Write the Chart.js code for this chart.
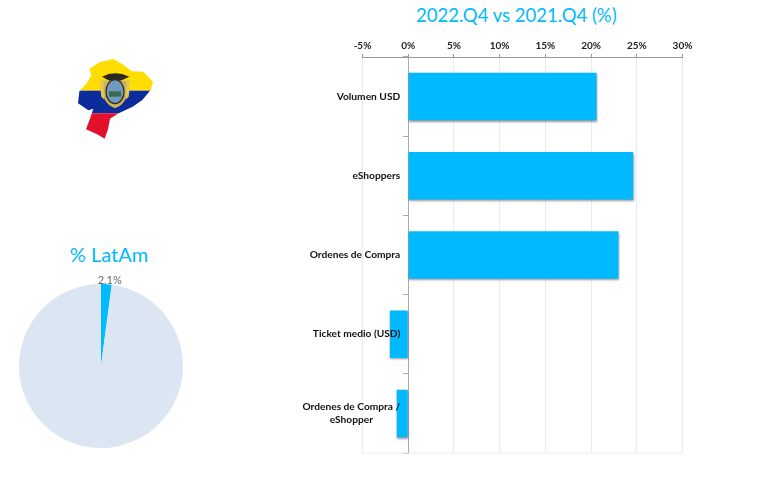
<!DOCTYPE html>
<html>
<head>
<meta charset="utf-8">
<script src="https://cdn.jsdelivr.net/npm/chart.js@4/dist/chart.umd.min.js"></script>
<style>
  html, body { margin: 0; padding: 0; background: #fff; }
  .box { position: absolute; }
  #mapa { position: absolute; left: 60px; top: 50px; }
  .titulo {
    position: absolute;
    color: #00B9FF;
    font-family: Lato, "Open Sans", sans-serif;
    font-weight: 400;
    white-space: nowrap;
    text-align: center;
  }
</style>
</head>
<body>
<!-- mapa de Ecuador con la bandera -->
<svg id="mapa" width="110" height="100" viewBox="0 0 330 300">
  <defs>
    <clipPath id="contorno">
      <path d="M88 56 L120 36 L160 27 L190 44 L215 64 L250 65 L279 95 L272 120 L247 150 L218 170 L176 190 L150 206 L144 238 L134 266 L110 252 L78 238 L92 200 L100 176 L85 181 L54 160 L58 124 L80 100 L94 76 Z"/>
    </clipPath>
  </defs>
  <g clip-path="url(#contorno)">
    <rect x="40" y="20" width="250" height="102" fill="#FFDD00"/>
    <rect x="40" y="122" width="250" height="68" fill="#0B2C9A"/>
    <rect x="40" y="190" width="250" height="90" fill="#E2102B"/>
  </g>
  <path d="M118 88 L132 92 L134 150 L124 140 Z" fill="#E9C94A"/>
  <path d="M212 88 L198 92 L196 150 L206 140 Z" fill="#E9C94A"/>
  <path d="M126 80 Q165 60 208 80 L182 92 L148 92 Z" fill="#2A2A22"/>
  <path d="M130 92 L200 92 L198 140 Q192 165 165 175 Q138 165 132 140 Z" fill="#C9B35A"/>
  <ellipse cx="165" cy="125" rx="27" ry="36" fill="#6E9BBE" stroke="#3A2A20" stroke-width="4"/>
  <rect x="147" y="124" width="36" height="16" fill="#3E6B4F"/>
</svg>

<div class="titulo" style="left:416px;top:3px;width:200px;font-size:18.5px;line-height:24px">2022.Q4 vs 2021.Q4 (%)</div>
<div class="titulo" style="left:69px;top:241px;width:80px;font-size:20px;line-height:26px">% LatAm</div>

<div class="box" style="left:290px;top:30px;width:452px;height:450px"><canvas id="graficoVariacion"></canvas></div>
<div class="box" style="left:0;top:270px;width:202px;height:178px"><canvas id="graficoLatam"></canvas></div>

<script>
const categorias = ['Volumen USD', 'eShoppers', 'Ordenes de Compra', 'Ticket medio (USD)', ['Ordenes de Compra /', 'eShopper']];
const variacion = [20.6, 24.6, 23.0, -2.0, -1.25];
const ticksX = [-5, 0, 5, 10, 15, 20, 25, 30];

const etiquetasPie = ['Ecuador', 'Resto LatAm'];
const valoresPie = [2.1, 97.9];

const fuente = 'Lato, "Open Sans", sans-serif';
const azul = '#00B9FF';

// Sombra de las barras
const sombraBarras = {
    id: 'sombraBarras',
    beforeDatasetsDraw(chart) {
        const ctx = chart.ctx;
        ctx.save();
        ctx.shadowColor = 'rgba(0, 0, 0, 0.4)';
        ctx.shadowBlur = 2;
        ctx.shadowOffsetX = 0.5;
        ctx.shadowOffsetY = 1.5;
    },
    afterDatasetsDraw(chart) {
        chart.ctx.restore();
    }
};

// Linea clara al pie del grafico
const lineaInferior = {
    id: 'lineaInferior',
    beforeDatasetsDraw(chart) {
        const { ctx, chartArea } = chart;
        ctx.save();
        ctx.strokeStyle = '#E6EBF5';
        ctx.lineWidth = 1;
        ctx.beginPath();
        ctx.moveTo(chartArea.left, chartArea.bottom);
        ctx.lineTo(chartArea.right, chartArea.bottom);
        ctx.stroke();
        ctx.restore();
    }
};

// Etiquetas de categoria: una linea a la derecha, varias lineas centradas entre si
const etiquetasCategoria = {
    id: 'etiquetasCategoria',
    afterDatasetsDraw(chart) {
        const ctx = chart.ctx;
        const escala = chart.scales.y;
        const xDerecha = chart.scales.x.getPixelForValue(0) - 8;
        ctx.save();
        ctx.font = 'bold 10.2px ' + fuente;
        ctx.fillStyle = '#111';
        ctx.textBaseline = 'middle';
        categorias.forEach((cat, i) => {
            const y = escala.getPixelForTick(i);
            if (Array.isArray(cat)) {
                const ancho = Math.max(...cat.map(l => ctx.measureText(l).width));
                ctx.textAlign = 'center';
                cat.forEach((linea, j) => {
                    ctx.fillText(linea, xDerecha - ancho / 2, y + (j - (cat.length - 1) / 2) * 13);
                });
            } else {
                ctx.textAlign = 'right';
                ctx.fillText(cat, xDerecha, y);
            }
        });
        ctx.restore();
    }
};

new Chart(document.getElementById('graficoVariacion'), {
    type: 'bar',
    data: {
        labels: categorias,
        datasets: [{
            data: variacion,
            backgroundColor: azul,
            categoryPercentage: 0.6,
            barPercentage: 1
        }]
    },
    options: {
        indexAxis: 'y',
        responsive: true,
        maintainAspectRatio: false,
        animation: false,
        layout: { padding: { left: 72.5, right: 59.5, top: 8, bottom: 27 } },
        scales: {
            x: {
                position: 'top',
                min: -5,
                max: 30,
                afterBuildTicks(escala) {
                    escala.ticks = ticksX.map(v => ({ value: v }));
                },
                grid: { color: '#E6EBF5', tickLength: 3, tickColor: '#999' },
                border: { color: '#999' },
                ticks: {
                    maxRotation: 0,
                    padding: 2,
                    color: '#222',
                    font: { family: fuente, size: 10, weight: 'bold' },
                    callback: v => v + '%'
                }
            },
            y: {
                position: { x: 0 },
                grid: { drawOnChartArea: false, tickLength: 5, tickColor: '#aaa', offset: true },
                border: { color: '#aaa' },
                ticks: { display: false }
            }
        },
        plugins: {
            legend: { display: false },
            tooltip: { enabled: false }
        }
    },
    plugins: [lineaInferior, sombraBarras, etiquetasCategoria]
});

// Etiqueta del sector pequeno
const etiquetaPie = {
    id: 'etiquetaPie',
    afterDatasetsDraw(chart) {
        const ctx = chart.ctx;
        const arco = chart.getDatasetMeta(0).data[0];
        const medio = (arco.startAngle + arco.endAngle) / 2;
        ctx.save();
        ctx.font = '11px ' + fuente;
        ctx.fillStyle = '#666';
        ctx.textAlign = 'center';
        ctx.textBaseline = 'middle';
        ctx.fillText(valoresPie[0].toFixed(1).replace('.', ',') + '%',
            arco.x + Math.cos(medio) * (arco.outerRadius + 4) + 3,
            arco.y + Math.sin(medio) * (arco.outerRadius + 4));
        ctx.restore();
    }
};

new Chart(document.getElementById('graficoLatam'), {
    type: 'pie',
    data: {
        labels: etiquetasPie,
        datasets: [{
            data: valoresPie,
            backgroundColor: [azul, '#DCE6F2'],
            borderWidth: 0
        }]
    },
    options: {
        responsive: true,
        maintainAspectRatio: false,
        animation: false,
        layout: { padding: { left: 19, right: 19, top: 14, bottom: 0 } },
        plugins: {
            legend: { display: false },
            tooltip: { enabled: false }
        }
    },
    plugins: [etiquetaPie]
});
</script>
</body>
</html>
